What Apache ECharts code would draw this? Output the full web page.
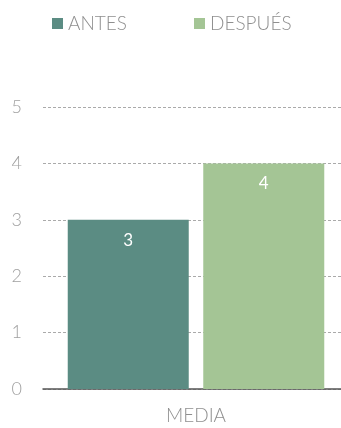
<!DOCTYPE html>
<html><head><meta charset="utf-8">
<script src="https://cdn.jsdelivr.net/npm/echarts@6/dist/echarts.min.js"></script>
<style>html,body{margin:0;padding:0;background:#fff}#c{width:341px;height:428px}</style>
</head><body><div id="c"></div>
<script>
const categories = ['MEDIA'];
const antes = [3];
const despues = [4];
const seriesNames = ['ANTES', 'DESPUÉS'];
const yTicks = [0, 1, 2, 3, 4, 5];

const font = 'Lato, "Open Sans", sans-serif';
const chart = echarts.init(document.getElementById('c'));
chart.setOption({
  animation: false,
  legend: {
    data: seriesNames,
    top: 9, left: 47,
    itemWidth: 11, itemHeight: 11, itemGap: 67,
    icon: 'rect',
    textStyle: { color: '#8f8f8f', fontSize: 19, fontFamily: font, fontWeight: 300 }
  },
  grid: { left: 43, width: 306, top: 107, bottom: 39, containLabel: false, outerBoundsMode: 'none' },
  xAxis: {
    type: 'category', data: categories,
    axisLine: { lineStyle: { color: '#555', width: 1.5 } },
    axisTick: { show: false },
    axisLabel: { color: '#8f8f8f', fontSize: 19, fontFamily: font, fontWeight: 300, margin: 17 }
  },
  yAxis: {
    type: 'value', min: 0, max: 5, interval: 1,
    axisLine: { show: false }, axisTick: { show: false },
    axisLabel: { color: '#a0a0a0', fontSize: 18, fontFamily: font, fontWeight: 300, margin: 21, align: 'right',
      formatter: v => yTicks.includes(v) ? String(v) : '' },
    splitLine: { lineStyle: { color: '#aaa', type: [3, 2], width: 1 } }
  },
  series: [
    { name: seriesNames[0], type: 'bar', data: antes, barWidth: 121, barGap: '12%',
      itemStyle: { color: '#5b8c83' },
      label: { show: true, position: 'insideTop', distance: 12, color: '#fff', fontSize: 17, fontFamily: font } },
    { name: seriesNames[1], type: 'bar', data: despues, barWidth: 121,
      itemStyle: { color: '#a4c595' },
      label: { show: true, position: 'insideTop', distance: 12, color: '#fff', fontSize: 17, fontFamily: font } }
  ]
});
</script></body></html>
